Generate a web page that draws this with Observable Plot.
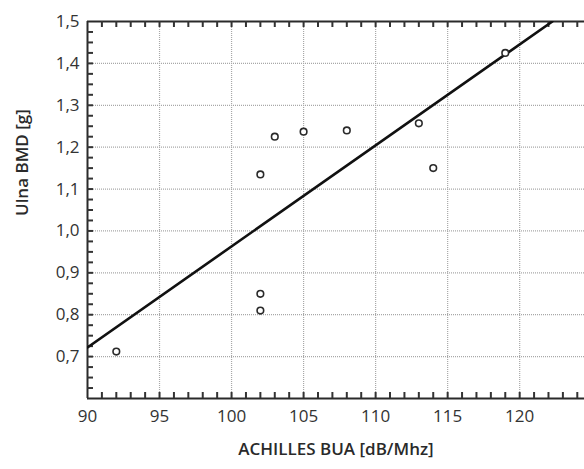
<!DOCTYPE html>
<html>
<head>
<meta charset="utf-8">
<script src="https://cdn.jsdelivr.net/npm/d3@7"></script>
<script src="https://cdn.jsdelivr.net/npm/@observablehq/plot@0.6"></script>
<style>
  html, body { margin: 0; padding: 0; background: #fff; }
</style>
</head>
<body>
<div id="chart"></div>
<script>
// Data
const buaValues = [92, 102, 102, 102, 103, 105, 108, 113, 114, 119];
const bmdValues = [0.712, 0.85, 0.81, 1.135, 1.225, 1.237, 1.24, 1.257, 1.15, 1.425];

// Fitted regression line as drawn (endpoints)
const fitX = [90, 122.27];
const fitY = [0.722, 1.5];

// Axis ticks
const xMajorTicks = [90, 95, 100, 105, 110, 115, 120];
const xMinorTicks = [91,92,93,94,95,96,97,98,99,100,101,102,103,104,105,106,107,108,109,110,111,112,113,114,115,116,117,118,119,120,121,122,123,124];
const yMajorTicks = [0.7, 0.8, 0.9, 1.0, 1.1, 1.2, 1.3, 1.4, 1.5];
const yMinorTicks = [0.625,0.65,0.675,0.7,0.725,0.75,0.775,0.8,0.825,0.85,0.875,0.9,0.925,0.95,0.975,1.0,1.025,1.05,1.075,1.1,1.125,1.15,1.175,1.2,1.225,1.25,1.275,1.3,1.325,1.35,1.375,1.4,1.425,1.45,1.475];

const xLabel = "ACHILLES BUA [dB/Mhz]";
const yLabel = "Ulna BMD [g]";

const points = buaValues.map((x, i) => ({x, y: bmdValues[i]}));
const fit = fitX.map((x, i) => ({x, y: fitY[i]}));

const comma = d => d3.format(".1f")(d).replace(".", ",");
const ink = "#2a2a2a";

const W = 584, H = 469, ML = 87, MR = 0, MT = 21, MB = 71;
const frameW = W - ML - MR, frameH = H - MT - MB;
const tickLen = 6;

const chart = Plot.plot({
  width: W,
  height: H,
  marginLeft: ML,
  marginRight: MR,
  marginTop: MT,
  marginBottom: MB,
  style: {fontFamily: "'Open Sans', sans-serif", fontSize: "16px", color: ink, background: "#fff"},
  x: {domain: [90, 124.5]},
  y: {domain: [0.6, 1.5]},
  marks: [
    Plot.gridX(xMajorTicks.slice(1), {stroke: "#a8a8a8", strokeOpacity: 1, strokeDasharray: "1,1", strokeWidth: 1.2}),
    Plot.gridY(yMajorTicks.slice(0, -1), {stroke: "#a8a8a8", strokeOpacity: 1, strokeDasharray: "1,1", strokeWidth: 1.2}),
    Plot.ruleY([0.6, 1.5], {stroke: ink, strokeWidth: 2}),
    Plot.ruleX([90], {stroke: ink, strokeWidth: 2}),
    Plot.tickX(xMinorTicks, {x: d => d, insetTop: frameH - tickLen, stroke: "#333", strokeOpacity: 1, strokeWidth: 2}),
    Plot.tickX(xMinorTicks, {x: d => d, insetBottom: frameH - tickLen, stroke: "#333", strokeOpacity: 1, strokeWidth: 2}),
    Plot.tickY(yMinorTicks, {y: d => d, insetRight: frameW - tickLen, stroke: "#333", strokeOpacity: 1, strokeWidth: 2}),
    Plot.axisX(xMajorTicks, {anchor: "bottom", tickSize: 0, tickPadding: 11, fontSize: 17, label: null, fill: "#333"}),
    Plot.axisY(yMajorTicks, {anchor: "left", tickSize: 0, tickPadding: 8, fontSize: 17, tickFormat: comma, label: null, fill: "#333"}),
    Plot.line(fit, {x: "x", y: "y", stroke: "#111", strokeWidth: 2.6, clip: true}),
    Plot.dot(points, {x: "x", y: "y", r: 3.3, stroke: ink, strokeWidth: 1.6, fill: "#fff"}),
    Plot.text([xLabel], {frameAnchor: "bottom", dy: 56, fontSize: 17, fontWeight: 600, fill: ink}),
    Plot.text([yLabel], {frameAnchor: "left", dx: -65, dy: 6, rotate: -90, fontSize: 17, fontWeight: 600, fill: ink})
  ]
});
document.getElementById("chart").appendChild(chart);
</script>
</body>
</html>
